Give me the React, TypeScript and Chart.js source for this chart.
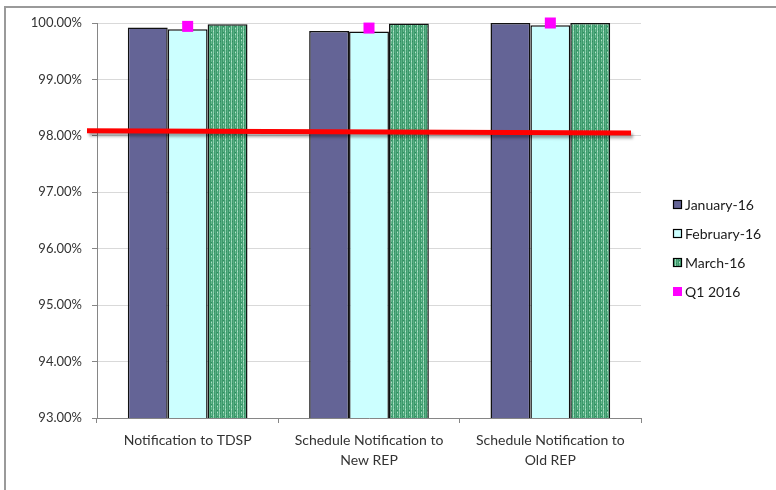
import React, { useEffect, useRef } from "react";
import { Chart, registerables } from "chart.js";

Chart.register(...registerables);

const categories: string[][] = [
  ["Notification to TDSP"],
  ["Schedule Notification to", "New REP"],
  ["Schedule Notification to", "Old REP"],
];
const january16 = [99.92, 99.86, 100.0];
const february16 = [99.89, 99.85, 99.96];
const march16 = [99.98, 99.99, 100.0];
const q12016 = [99.94, 99.91, 100.0];
const targetLine = [98.09, 98.05]; // left end, right end
const yMin = 93;
const yMax = 100;

const FONT = "Lato, 'Liberation Sans', sans-serif";

function makePattern(): CanvasPattern | string {
  const c = document.createElement("canvas");
  c.width = 6;
  c.height = 6;
  const g = c.getContext("2d");
  if (!g) return "#4aa57a";
  const cols = ["#3b9a6b", "#6bbb92", "#45a275", "#8fd0ae", "#3f9d6f", "#58ad83"];
  cols.forEach((col, i) => {
    g.fillStyle = col;
    g.fillRect(i, 0, 1, 6);
  });
  g.fillStyle = "#b5e3cb";
  g.fillRect(3, 1, 1, 1);
  g.fillRect(1, 4, 1, 1);
  g.fillStyle = "#2f8c5e";
  g.fillRect(1, 2, 1, 1);
  g.fillRect(4, 5, 1, 1);
  const p = g.createPattern(c, "repeat");
  return p || "#4aa57a";
}

export default function App() {
  const ref = useRef<HTMLCanvasElement>(null);

  useEffect(() => {
    if (!ref.current) return;
    const green = makePattern();

    const framePlugin = {
      id: "frame",
      beforeDraw(chart: any) {
        const ctx = chart.ctx;
        ctx.save();
        ctx.fillStyle = "#ffffff";
        ctx.fillRect(0, 0, chart.width, chart.height);
        ctx.strokeStyle = "#9a9a9a";
        ctx.lineWidth = 2;
        ctx.strokeRect(5, 7, chart.width + 20, chart.height + 20);
        ctx.restore();
      },
    };

    const targetPlugin = {
      id: "target",
      afterDatasetsDraw(chart: any) {
        const ctx = chart.ctx;
        const y = chart.scales.y;
        const a = chart.chartArea;
        const x0 = a.left - 10;
        const x1 = a.right - 10;
        const y0 = y.getPixelForValue(targetLine[0]);
        const y1 = y.getPixelForValue(targetLine[1]);
        ctx.save();
        ctx.strokeStyle = "#ff0000";
        ctx.lineWidth = 5;
        ctx.shadowColor = "rgba(0,0,0,0.35)";
        ctx.shadowBlur = 3;
        ctx.shadowOffsetX = 2;
        ctx.shadowOffsetY = 3;
        ctx.beginPath();
        ctx.moveTo(x0, y0);
        ctx.lineTo(x1, y1);
        ctx.stroke();
        ctx.restore();
        const meta = chart.getDatasetMeta(3);
        ctx.save();
        meta.data.forEach((pt: any) => {
          ctx.fillStyle = "#ff00ff";
          ctx.fillRect(pt.x - 5.5, pt.y - 5.5, 11, 11);
        });
        ctx.restore();
      },
    };

    const legendPlugin = {
      id: "customLegend",
      afterDraw(chart: any) {
        const ctx = chart.ctx;
        ctx.save();
        ctx.font = `14px ${FONT}`;
        ctx.textBaseline = "middle";
        chart.data.datasets.forEach((ds: any, i: number) => {
          const yy = 205 + i * 29;
          const bx = 673;
          if (i === 3) {
            ctx.fillStyle = "#ff00ff";
            ctx.fillRect(bx, yy - 5, 9, 9);
          } else {
            ctx.fillStyle = ds.backgroundColor;
            ctx.fillRect(bx, yy - 5, 9, 9);
            ctx.strokeStyle = "#000";
            ctx.lineWidth = 1.2;
            ctx.strokeRect(bx + 0.5, yy - 4.5, 8, 8);
          }
          ctx.fillStyle = "#1a1a1a";
          ctx.fillText(ds.label, bx + 12, yy);
        });
        ctx.restore();
      },
    };

    const chart = new Chart(ref.current, {
      type: "bar",
      data: {
        labels: categories,
        datasets: [
          {
            label: "January-16",
            data: january16,
            backgroundColor: "#646496",
            borderColor: "#111111",
            borderWidth: 1.5,
            categoryPercentage: 0.66,
            barPercentage: 1,
          },
          {
            label: "February-16",
            data: february16,
            backgroundColor: "#ccffff",
            borderColor: "#111111",
            borderWidth: 1.5,
            categoryPercentage: 0.66,
            barPercentage: 1,
          },
          {
            label: "March-16",
            data: march16,
            backgroundColor: green as any,
            borderColor: "#111111",
            borderWidth: 1.5,
            categoryPercentage: 0.66,
            barPercentage: 1,
          },
          {
            type: "line" as any,
            label: "Q1 2016",
            data: q12016,
            showLine: false,
            pointStyle: "rect",
            pointRadius: 0,
            backgroundColor: "#ff00ff",
            borderColor: "#ff00ff",
            clip: false as any,
          } as any,
        ],
      },
      options: {
        animation: false,
        responsive: false,
        layout: { padding: { left: 0, top: 23, right: 135, bottom: 0 } },
        plugins: {
          legend: { display: false },
          tooltip: { enabled: false },
        },
        scales: {
          x: {
            offset: true,
            grid: {
              offset: true,
              drawOnChartArea: false,
              drawTicks: true,
              tickLength: 5,
              tickColor: "#868686",
            },
            border: { color: "#868686", width: 1 },
            ticks: {
              color: "#333333",
              font: { family: FONT, size: 14, lineHeight: 1.45 },
              padding: 7,
              maxRotation: 0,
              autoSkip: false,
            },
            afterFit(scale: any) {
              scale.height = 72;
            },
          },
          y: {
            min: yMin,
            max: yMax,
            ticks: {
              stepSize: 1,
              color: "#333333",
              font: { family: FONT, size: 13 },
              padding: 10,
              callback: (v: any) => Number(v).toFixed(2) + "%",
            },
            grid: {
              color: "#d9d9d9",
              tickColor: "#868686",
              tickLength: 5,
              lineWidth: 1,
            },
            border: { color: "#868686", width: 1 },
            afterFit(scale: any) {
              scale.width = 97;
            },
          },
        },
      },
      plugins: [framePlugin, targetPlugin, legendPlugin],
    });

    return () => chart.destroy();
  }, []);

  return (
    <div style={{ position: "fixed", left: 0, top: 0, width: 776, height: 490 }}>
      <canvas ref={ref} width={776} height={490} style={{ display: "block" }} />
    </div>
  );
}
